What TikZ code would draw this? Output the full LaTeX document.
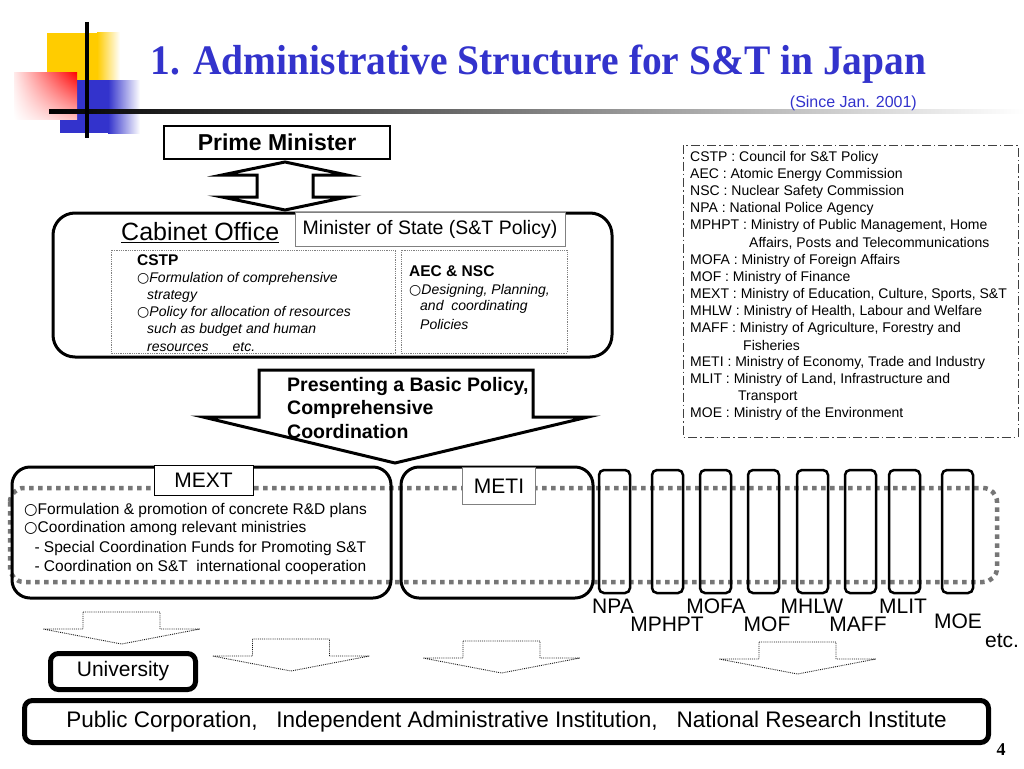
\documentclass[tikz,border=0pt]{standalone}
\usepackage{fontspec}
\setmainfont{Liberation Sans}
\newfontfamily\serifbold{Liberation Serif}
\newfontfamily\symfont{DejaVu Sans}
\newcommand\wcirc{{\symfont\char"25CB}}
\usetikzlibrary{positioning,shadings}
\definecolor{titleblue}{RGB}{51,51,204}
\definecolor{ribbongray}{RGB}{118,118,118}
\definecolor{sqyellow}{RGB}{255,204,0}
\definecolor{sqblue}{RGB}{51,51,204}
\tikzset{
  bigbox/.style={draw, line width=3pt, rounded corners=18pt},
  minbox/.style={draw, line width=2.5pt, rounded corners=5pt, minimum width=31pt, minimum height=123pt, inner sep=0pt},
  labelbox/.style={draw, fill=white, line width=1pt, inner sep=0pt},
  dotbox/.style={draw=gray, densely dotted, line width=0.8pt},
  blockarrow/.style={draw, fill=white, line width=3pt, line join=miter},
  thinarrow/.style={draw=black!90, densely dotted, line width=0.9pt},
  ribbon/.style={draw=ribbongray, line width=4.5pt, dash pattern=on 4.5pt off 4.5pt, rounded corners=14pt},
  legtext/.style={anchor=west, inner sep=0pt, font=\fontsize{14}{16}\selectfont},
  itext/.style={anchor=west, inner sep=0pt, font=\fontsize{14}{16}\selectfont\itshape},
  btext/.style={anchor=west, inner sep=0pt, font=\fontsize{19.5}{22}\selectfont\bfseries},
  mtext/.style={anchor=west, inner sep=0pt, font=\fontsize{15.5}{18}\selectfont},
  mlabel/.style={inner sep=0pt, font=\fontsize{21}{24}\selectfont}
}
\begin{document}
\begin{tikzpicture}[x=1pt,y=-1pt]
  \useasboundingbox (0,0) rectangle (1024,768);
  \fill[white] (0,0) rectangle (1024,768);
  % corner squares and title rule
  \fill[sqyellow] (47,33) rectangle (97,80);
  \shade[left color=sqyellow, right color=white] (97,33) rectangle (120,80);
  \fill[sqblue] (60,80) rectangle (108,133);
  \shade[left color=sqblue, right color=white] (108,80) rectangle (140,133);
  \shade[upper left=red!8, upper right=red, lower left=white, lower right=red!25] (14,72) rectangle (77,119);
  \shade[left color=black, right color=white] (49,109) rectangle (1024,113);
  \draw[line width=3.5pt] (87,22) -- (87,138);
  \node[anchor=base, inner sep=0pt, text=titleblue, font=\serifbold\fontsize{42}{46}\selectfont\bfseries] (title) at (538.5,74.3) {\scalebox{0.94}[1]{1. Administrative Structure for S\&T in Japan}};
  \node[anchor=east, inner sep=0pt, text=titleblue, font=\fontsize{16}{18}\selectfont] (since) at (917,103) {(Since Jan. 2001)};

  % prime minister and cabinet office
  \node[labelbox, line width=1.5pt, minimum width=226pt, minimum height=33pt, font=\fontsize{23}{26}\selectfont\bfseries] (pm) at (277,142.5) {Prime Minister};
  \draw[blockarrow] (285,162) -- (347,175) -- (313,175) -- (313,197) -- (347,197) -- (285,210)
    -- (222,197) -- (257,197) -- (257,175) -- (222,175) -- cycle;
  \draw[bigbox, rounded corners=22pt] (53,213) rectangle (612,357);
  \node[anchor=west, inner sep=0pt, font=\fontsize{25}{28}\selectfont] (cabinet) at (121,233) {\underline{Cabinet Office}};
  \node[labelbox, draw=gray, minimum width=270pt, minimum height=34pt, font=\fontsize{19.5}{22}\selectfont] (mos) at (430,229) {Minister of State (S\&T Policy)};
  \draw[dotbox] (111,250) rectangle (395,353);
  \draw[dotbox] (401,250) rectangle (567,353);
  \node[btext, font=\fontsize{15.5}{18}\selectfont\bfseries] (cstp) at (137,260) {CSTP};
  \node[itext] (cstpa) at (137,279) {\wcirc Formulation of comprehensive};
  \node[itext] (cstpb) at (147,296) {strategy};
  \node[itext] (cstpc) at (137,313) {\wcirc Policy for allocation of resources};
  \node[itext] (cstpd) at (147,330) {such as budget and human};
  \node[itext] (cstpe) at (147,347) {resources\hspace{24pt}etc.};
  \node[btext, font=\fontsize{15.5}{18}\selectfont\bfseries] (aec) at (409,271) {AEC \& NSC};
  \node[itext] (aeca) at (409,291) {\wcirc Designing, Planning,};
  \node[itext] (aecb) at (420,307) {and\ \ coordinating};
  \node[itext] (aecc) at (420,324) {Policies};

  % legend
  \draw[black!75, line width=1pt, dash pattern=on 9pt off 3pt on 1.5pt off 3pt] (683,145) rectangle (1018,437);
  \foreach \t [count=\i from 0] in {{CSTP : Council for S\&T Policy},
      {AEC : Atomic Energy Commission},
      {NSC : Nuclear Safety Commission},
      {NPA : National Police Agency},
      {MPHPT : Ministry of Public Management, Home},
      {\hspace*{59pt}Affairs, Posts and Telecommunications},
      {MOFA : Ministry of Foreign Affairs},
      {MOF : Ministry of Finance},
      {MEXT : Ministry of Education, Culture, Sports, S\&T},
      {MHLW : Ministry of Health, Labour and Welfare},
      {MAFF : Ministry of Agriculture, Forestry and},
      {\hspace*{53pt}Fisheries},
      {METI : Ministry of Economy, Trade and Industry},
      {MLIT : Ministry of Land, Infrastructure and},
      {\hspace*{48pt}Transport},
      {MOE : Ministry of the Environment}}{
    \node[legtext] (leg\i) at (690,158+17.07*\i) {\t};
  }

  % basic policy arrow
  \draw[blockarrow] (259,370) -- (533,370) -- (533,417) -- (588,417) -- (395,463) -- (203,417) -- (259,417) -- cycle;
  \node[btext] (pres) at (287,386) {Presenting a Basic Policy,};
  \node[btext] (comp) at (287,409) {Comprehensive};
  \node[btext] (coord) at (287,432) {Coordination};

  % ministries
  \draw[ribbon] (10,488) rectangle (997,582);
  \draw[bigbox] (12,467) rectangle (391,598);
  \draw[bigbox] (401,467) rectangle (593,598);
  \foreach \x [count=\i] in {614.5,667.5,715.5,763.5,812.5,860.5,904.5,957.5}{
    \node[minbox] (min\i) at (\x,531.5) {};
  }
  \node[labelbox, minimum width=99pt, minimum height=30pt, font=\fontsize{21}{24}\selectfont] (mext) at (203.5,480.5) {MEXT};
  \node[labelbox, draw=gray, minimum width=73pt, minimum height=37pt, font=\fontsize{21}{24}\selectfont] (meti) at (499,486) {METI};
  \node[mtext] (mexta) at (24,510) {\wcirc Formulation \& promotion of concrete R\&D plans};
  \node[mtext] (mextb) at (24,528) {\wcirc Coordination among relevant ministries};
  \node[mtext] (mextc) at (30,548) {\ - Special Coordination Funds for Promoting S\&T};
  \node[mtext] (mextd) at (30,567) {\ - Coordination on S\&T\ \ international cooperation};
  \node[mlabel] (npa) at (613,606) {NPA};
  \node[mlabel] (mofa) at (716,606) {MOFA};
  \node[mlabel] (mhlw) at (812,606) {MHLW};
  \node[mlabel] (mlit) at (903,606) {MLIT};
  \node[mlabel] (mphpt) at (667,624) {MPHPT};
  \node[mlabel] (mof) at (767,624) {MOF};
  \node[mlabel] (maff) at (858,624) {MAFF};
  \node[mlabel] (moe) at (958,621) {MOE};
  \node[mlabel] (etc) at (1002,641) {etc.};

  % research bodies
  \foreach \cx/\ty in {121.5/612, 291/639, 501.5/641, 797.5/642}{
    \draw[thinarrow] (\cx-38.5,\ty) -- (\cx+38.5,\ty) -- (\cx+38.5,\ty+17) -- (\cx+78.5,\ty+17)
      -- (\cx,\ty+32) -- (\cx-78.5,\ty+17) -- (\cx-38.5,\ty+17) -- cycle;
  }
  \node[draw, line width=5pt, rounded corners=8pt, minimum width=145pt, minimum height=36pt, inner sep=0pt, font=\fontsize{21}{24}\selectfont] (univ) at (123,671.5) {University};
  \node[draw, line width=5pt, rounded corners=8pt, minimum width=964pt, minimum height=42pt, inner sep=0pt, font=\fontsize{22.5}{26}\selectfont] (pub) at (506.5,721.5) {Public Corporation,\ \ \ Independent Administrative Institution,\ \ \ National Research Institute};
  \node[inner sep=0pt, font=\serifbold\fontsize{18}{20}\selectfont\bfseries] (page) at (1001,750) {4};
\end{tikzpicture}
\end{document}
